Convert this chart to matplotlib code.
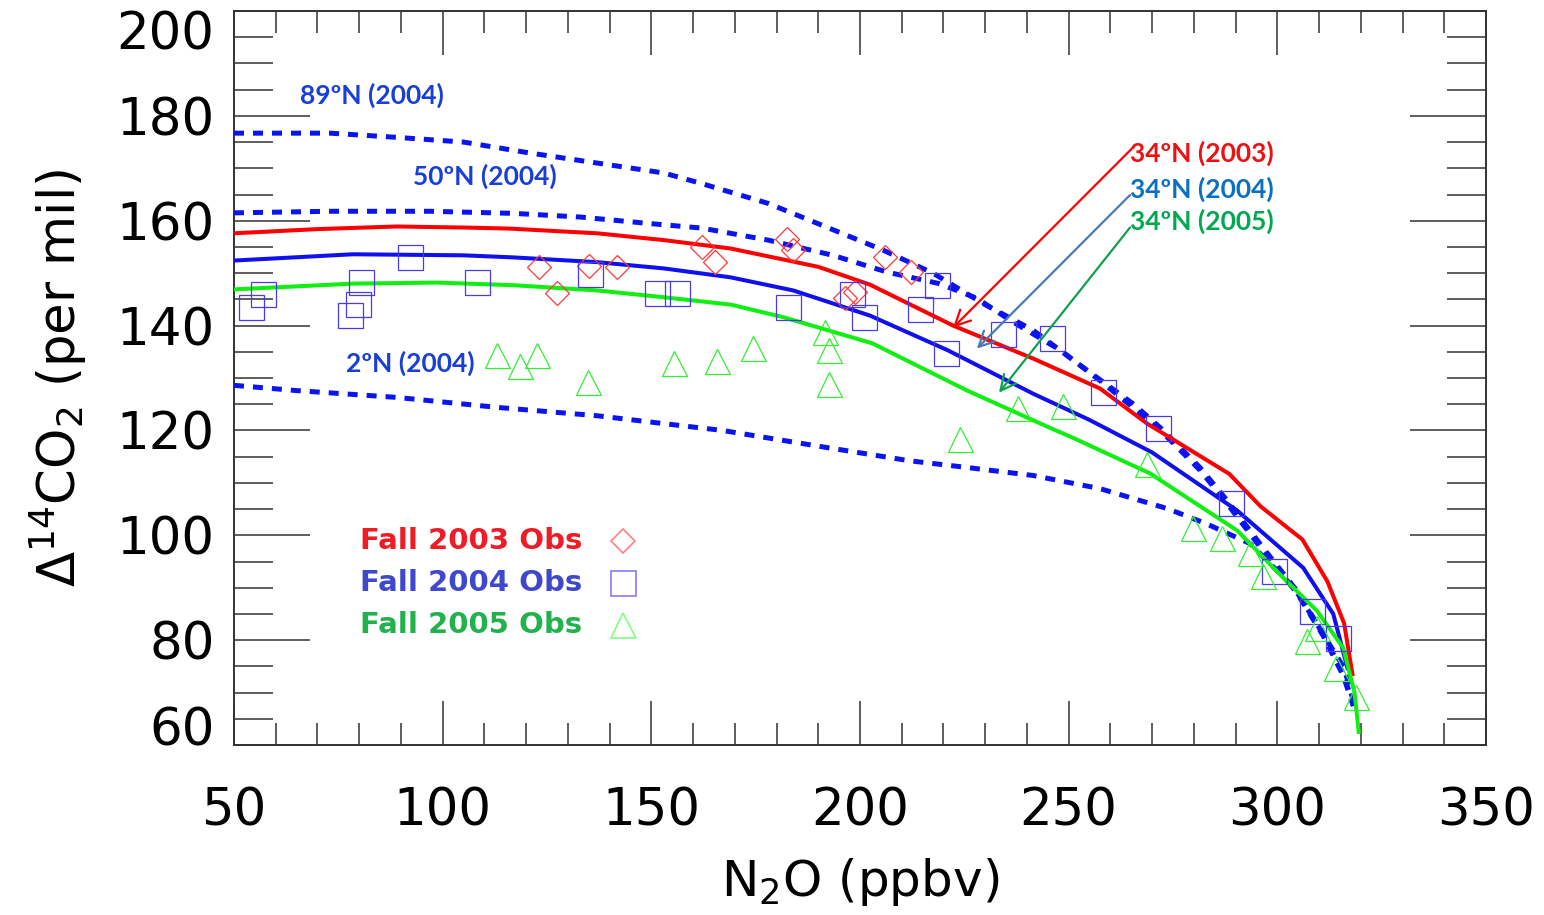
import matplotlib
matplotlib.use("Agg")
import matplotlib.pyplot as plt
from matplotlib.ticker import MultipleLocator, FixedLocator

# ---------------- data ----------------
red_x = [50, 70, 89, 105, 116, 137, 153, 169, 190, 202.4, 222.3, 241.5, 257.5, 268.8, 288.5, 296, 306, 312, 316, 318]
red_y = [157.6, 158.4, 158.9, 158.7, 158.5, 157.6, 156.3, 154.7, 151.2, 147.8, 140.0, 133.7, 128.0, 121.3, 111.7, 105.5, 99.2, 91.2, 83.2, 73.5]

blue_x = [50, 78.5, 105, 117, 137, 153, 169, 184, 202.4, 221, 241.5, 255, 270, 290.4, 306.2, 313.4, 316.8]
blue_y = [152.4, 153.6, 153.4, 153.0, 152.1, 150.9, 149.2, 146.7, 141.9, 135.3, 127.0, 122.0, 115.8, 104.7, 93.8, 85.0, 74.7]

green_x = [50, 78.5, 98.6, 117, 137, 153, 169, 181.6, 203, 225.7, 245.5, 251, 269.5, 290.4, 301.4, 309.5, 315.8, 318.5, 319.5]
green_y = [146.9, 148.0, 148.2, 147.7, 146.7, 145.4, 144.0, 141.6, 136.6, 127.6, 120.5, 118.6, 111.8, 100.9, 91.9, 85.6, 78.5, 70.0, 62.5]

n89_x = [50, 73, 89, 105, 121, 137, 153, 162, 178, 191, 205.5, 217.5, 229.5, 241.5, 253.5, 265.4, 272, 281.5, 288, 296.6, 304.7, 311, 315.8, 318.2]
n89_y = [176.7, 176.7, 175.9, 175.0, 172.9, 171.0, 169.1, 167.1, 163.3, 159.1, 154.4, 150.0, 144.2, 139.1, 132.0, 125.1, 120.5, 112.9, 106.6, 97.6, 89.4, 81.2, 73.6, 67.8]

n50_x = [50, 73, 97, 117, 133, 149, 162, 178, 193.5, 206.5, 219, 228, 236, 248, 257.5, 265.4, 272, 281.5, 288, 296.6, 304.7, 311, 315.8, 318.2]
n50_y = [161.5, 161.8, 161.8, 161.4, 160.7, 159.5, 158.6, 156.3, 153.4, 150.2, 148.0, 145.2, 141.0, 135.3, 129.5, 124.4, 120.0, 112.4, 106.0, 97.0, 89.0, 80.8, 73.2, 67.4]

n2_x = [50, 65, 89, 113, 137, 153, 167, 190, 212, 226, 241.5, 257.5, 273.6, 283, 293.5, 304, 310, 316, 318.2]
n2_y = [128.6, 127.6, 126.3, 124.4, 122.8, 121.3, 120.0, 117.0, 114.2, 112.9, 111.4, 108.9, 105.1, 102.2, 98.4, 90.0, 82.4, 74.7, 68.4]

obs2003_x = [123.1, 127.4, 135.1, 141.8, 162.2, 165.3, 182.5, 184.0, 196.4, 198.8, 206.0, 212.2]
obs2003_y = [151.1, 146.3, 151.3, 151.1, 155.0, 152.1, 156.6, 154.4, 145.3, 146.4, 153.0, 150.2]

obs2004_x = [54.1, 57.0, 77.8, 79.7, 80.4, 92.2, 108.2, 135.3, 151.4, 156.2, 182.8, 198.1, 201.0, 214.4, 218.5,
             220.6, 234.3, 246.0, 258.2, 271.4, 288.9, 299.2, 308.3, 314.6]
obs2004_y = [143.5, 146.0, 142.0, 144.2, 148.4, 153.0, 148.4, 149.8, 146.3, 146.3, 143.5, 146.0, 141.7, 143.1, 147.7,
             134.7, 138.3, 137.7, 127.3, 120.4, 106.2, 93.2, 85.6, 80.4]

obs2005_x = [113.0, 118.5, 122.6, 134.8, 155.4, 165.7, 174.4, 191.6, 192.6, 192.6, 224.0, 237.9, 248.7,
             268.8, 279.8, 286.8, 293.5, 296.6, 307.1, 309.5, 314.1, 318.9]
obs2005_y = [134.3, 132.2, 134.3, 129.3, 132.8, 133.3, 135.8, 138.7, 135.3, 128.9, 118.3, 124.2, 124.6,
             113.6, 101.4, 99.5, 96.6, 92.3, 79.9, 82.4, 74.7, 69.2]

x_ticks = [50, 100, 150, 200, 250, 300, 350]
y_ticks = [60, 80, 100, 120, 140, 160, 180, 200]

curve_labels = ["89ºN (2004)", "50ºN (2004)", "2ºN (2004)"]
curve_label_pos = [(65.8, 184.0), (92.9, 168.5), (76.8, 132.8)]
arrow_labels = ["34ºN (2003)", "34ºN (2004)", "34ºN (2005)"]
arrow_label_pos = [(264.7, 172.9), (264.7, 166.0), (264.7, 159.9)]
arrow_start = [(265.2, 173.8), (264.7, 164.9), (264.7, 158.7)]
arrow_end = [(222.3, 139.6), (228.0, 135.6), (233.3, 127.2)]
legend_labels = ["Fall 2003 Obs", "Fall 2004 Obs", "Fall 2005 Obs"]

# ---------------- styles ----------------
RED = "#ff0000"
BLUE = "#1010ee"
GREEN = "#11ee11"
DASH_BLUE = "#0a14f0"
LBL_BLUE = "#1a3fd6"
TXT_RED = "#ee1111"
TXT_BLUE34 = "#0b70c4"
TXT_GREEN34 = "#00a84f"
ARR_BLUE = "#4a7ab5"
ARR_GREEN = "#10a050"

fig = plt.figure(figsize=(15.44, 9.15), dpi=100)
ax = fig.add_axes([234 / 1544, 1 - 745 / 915, (1486 - 234) / 1544, (745 - 11) / 915])

dash = (0, (2.0, 1.8))
ax.plot(n89_x, n89_y, color=DASH_BLUE, lw=3.6, ls=dash, zorder=3)
ax.plot(n50_x, n50_y, color=DASH_BLUE, lw=3.6, ls=dash, zorder=3)
ax.plot(n2_x, n2_y, color=DASH_BLUE, lw=3.6, ls=dash, zorder=3)
ax.plot(red_x, red_y, color=RED, lw=2.9, zorder=4)
ax.plot(blue_x, blue_y, color=BLUE, lw=2.9, zorder=4)
ax.plot(green_x, green_y, color=GREEN, lw=2.9, zorder=4)

ax.plot(obs2003_x, obs2003_y, ls="none", marker="D", ms=12.5, mfc="none", mec="#ff3a3a", mew=0.9, zorder=5)
ax.plot(obs2004_x, obs2004_y, ls="none", marker="s", ms=18, mfc="none", mec="#4a3ae8", mew=0.9, zorder=5)
ax.plot(obs2005_x, obs2005_y, ls="none", marker="^", ms=18, mfc="none", mec="#33ee33", mew=0.9, zorder=5)

ax.set_xlim(50, 350)
ax.set_ylim(60, 200)

ax.xaxis.set_major_locator(FixedLocator(x_ticks))
ax.xaxis.set_minor_locator(MultipleLocator(10))
ax.yaxis.set_major_locator(FixedLocator(y_ticks))
ax.yaxis.set_minor_locator(MultipleLocator(5))
ax.set_xticklabels([str(v) for v in x_ticks])
ax.set_yticklabels([str(v) for v in y_ticks])

ax.tick_params(axis="both", which="both", direction="in", top=True, right=True, colors="#333333", width=1.1)
ax.tick_params(axis="x", which="major", length=32, pad=30, labelsize=37, labelcolor="black")
ax.tick_params(axis="x", which="minor", length=16)
ax.tick_params(axis="y", which="major", length=55, pad=14, labelsize=37, labelcolor="black")
ax.tick_params(axis="y", which="minor", length=28)
for lab in ax.get_yticklabels():
    if lab.get_text() == "200":
        lab.set_va("top")
    elif lab.get_text() == "60":
        lab.set_va("baseline")
for s in ax.spines.values():
    s.set_linewidth(1.4)
    s.set_color("#333333")

ax.set_xlabel("N$_2$O (ppbv)", fontsize=36, labelpad=14)
ax.set_ylabel("Δ$^{14}$CO$_2$ (per mil)", fontsize=37, labelpad=20)

for t, (x, y) in zip(curve_labels, curve_label_pos):
    ax.text(x, y, t, color=LBL_BLUE, fontsize=19, fontweight="bold", family=["Lato", "DejaVu Sans"],
            ha="left", va="center", zorder=6)

cols = [TXT_RED, TXT_BLUE34, TXT_GREEN34]
acols = [RED, ARR_BLUE, ARR_GREEN]
for t, (x, y), c in zip(arrow_labels, arrow_label_pos, cols):
    ax.text(x, y, t, color=c, fontsize=19, fontweight="bold", family=["Lato", "DejaVu Sans"],
            ha="left", va="center", zorder=6)
for s0, s1, c in zip(arrow_start, arrow_end, acols):
    ax.annotate("", xy=s1, xytext=s0,
                arrowprops=dict(arrowstyle="->,head_length=1.1,head_width=0.55", color=c, lw=1.6,
                                shrinkA=0, shrinkB=0, mutation_scale=10), zorder=6)

# legend (manual, in axes fraction)
leg_cols = ["#ee1c24", "#3f48cc", "#22b14c"]
leg_markers = ["D", "s", "^"]
leg_mcols = ["#ff8080", "#8878ff", "#80ff80"]
leg_ms = [12.5, 18, 18]
leg_y = [1 - (541 - 11) / 734, 1 - (583 - 11) / 734, 1 - (625 - 11) / 734]
for lab, c, m, mc, ms, yy in zip(legend_labels, leg_cols, leg_markers, leg_mcols, leg_ms, leg_y):
    ax.text((360 - 234) / 1252, yy, lab, transform=ax.transAxes, color=c, fontsize=21,
            fontweight="bold", family="DejaVu Sans", ha="left", va="center")
    ax.plot([(623 - 234) / 1252], [yy], transform=ax.transAxes, marker=m, ms=ms, mfc="none",
            mec=mc, mew=1.2, ls="none", clip_on=False)

fig.savefig("out.png", dpi=100)
